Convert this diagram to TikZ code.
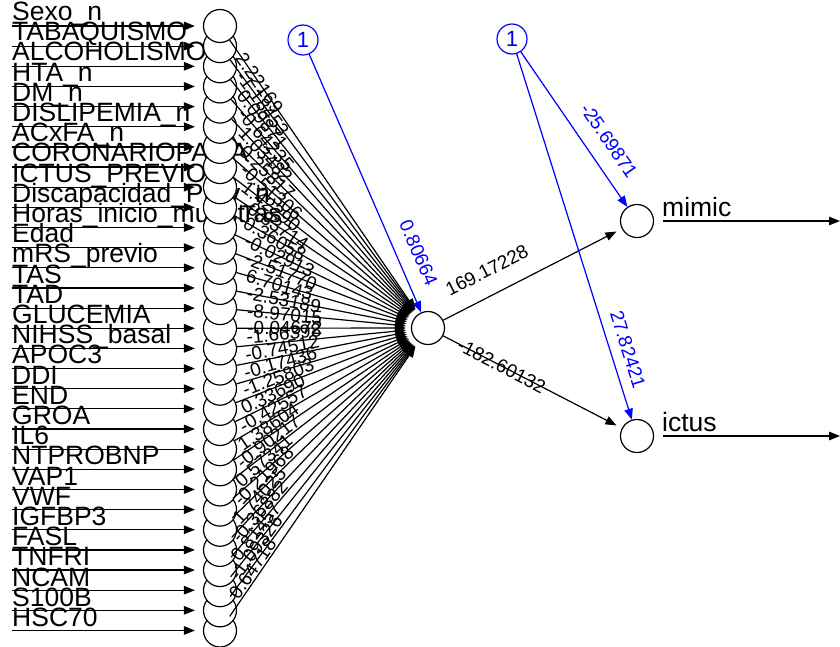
\documentclass[tikz,border=0pt]{standalone}
\usepackage{fontspec}
\setmainfont{Liberation Sans}
\usetikzlibrary{arrows.meta, positioning, calc}

\begin{document}
\begin{tikzpicture}[
  x=1pt, y=-1pt,
  neuron/.style={circle, draw=black, fill=white, line width=1.2pt,
                 minimum size=33pt, inner sep=0pt},
  biasnode/.style={circle, draw=blue, text=blue, line width=1.2pt,
                   minimum size=30pt, inner sep=0pt, font=\fontsize{22}{22}\selectfont},
  syn/.style={-{Triangle[length=11pt, width=8.5pt]}, line width=1.2pt},
  bsyn/.style={syn, draw=blue, fill=blue},
  lbl/.style={font=\fontsize{26.5}{26.5}\selectfont, inner sep=0pt},
  wlbl/.style={font=\fontsize{19}{19}\selectfont, inner sep=1pt, sloped},
  blbl/.style={wlbl, text=blue}
]
\useasboundingbox (0,0) rectangle (840,646);

% input names first, the neurons cover their tails
\foreach \name [count=\i] in {Sexo\_n, TABAQUISMO, ALCOHOLISMO, HTA\_n, DM\_n,
    DISLIPEMIA\_n, ACxFA\_n, CORONARIOPATIA, ICTUS\_PREVIO, Discapacidad\_Prev\_n,
    Horas\_inicio\_muestras, Edad, mRS\_previo, TAS, TAD, GLUCEMIA, NIHSS\_basal,
    APOC3, DDI, END, GROA, IL6, NTPROBNP, VAP1, VWF, IGFBP3, FASL, TNFRI, NCAM,
    S100B, HSC70}
  \node[lbl, anchor=base west] (l\i) at (12, {20.5+(\i-1)*20.2}) {\name};

% input layer, upper circles on top
\foreach \i in {31,30,...,1}
  \node[neuron] (in\i) at (220, {26+(\i-1)*20.15}) {};

\foreach \i in {1,...,31} {
  \coordinate (x\i) at (12, {26+(\i-1)*20.15});
  \draw[syn, shorten >=8pt] (x\i) -- (in\i);
}

\node[neuron] (hid) at (428,328) {};
\node[neuron] (mimic) at (637,221) {};
\node[neuron] (ictus) at (637,436) {};
\node[biasnode] (b1) at (303,40) {1};
\node[biasnode] (b2) at (512,39) {1};

% weights into the hidden neuron
\foreach \w [count=\i] in {2.22169, -1.18453, 0.09871, -0.64235, 1.03482,
    0.25817, -0.51306, 1.42290, -0.83714, 0.36058, -0.02913, -2.51770,
    6.70143, -2.53189, -8.97015, -0.04672, -1.66398, -0.74512, -0.17436,
    -1.25803, 0.33690, -0.42557, 1.38604, -0.90217, 0.57341, -0.21968,
    1.74025, -0.36882, 0.81457, -1.09326, 0.64718} {
  \ifnum\i<17 \def\anc{west}\else\def\anc{south west}\fi
  \draw[syn, shorten >=5pt] (in\i) -- node[wlbl, pos=0.05, anchor=\anc] {\w} (hid);
}

\draw[bsyn] (b1) -- node[blbl, pos=0.93, above left=13pt and 0pt] {0.80664} (hid);

\draw[syn, shorten >=6pt] (hid) -- node[wlbl, pos=0.075, above right=16pt and 0pt] {169.17228} (mimic);
\draw[syn, shorten >=6pt] (hid) -- node[wlbl, pos=0.08, anchor=west] {-182.60132} (ictus);

\draw[bsyn] (b2) -- node[blbl, pos=0.89, above left=14pt and 0pt] {-25.69871} (mimic);
\draw[bsyn] (b2) -- node[blbl, pos=0.93, above left=9pt and 0pt] {27.82421} (ictus);

% outputs
\coordinate (omimic) at (840,221);
\coordinate (oictus) at (840,436);
\draw[syn, shorten <=9pt] (mimic) -- (omimic);
\draw[syn, shorten <=9pt] (ictus) -- (oictus);
\node[lbl, anchor=base west] (tmimic) at (662,216) {mimic};
\node[lbl, anchor=base west] (tictus) at (662,431) {ictus};
\end{tikzpicture}
\end{document}
